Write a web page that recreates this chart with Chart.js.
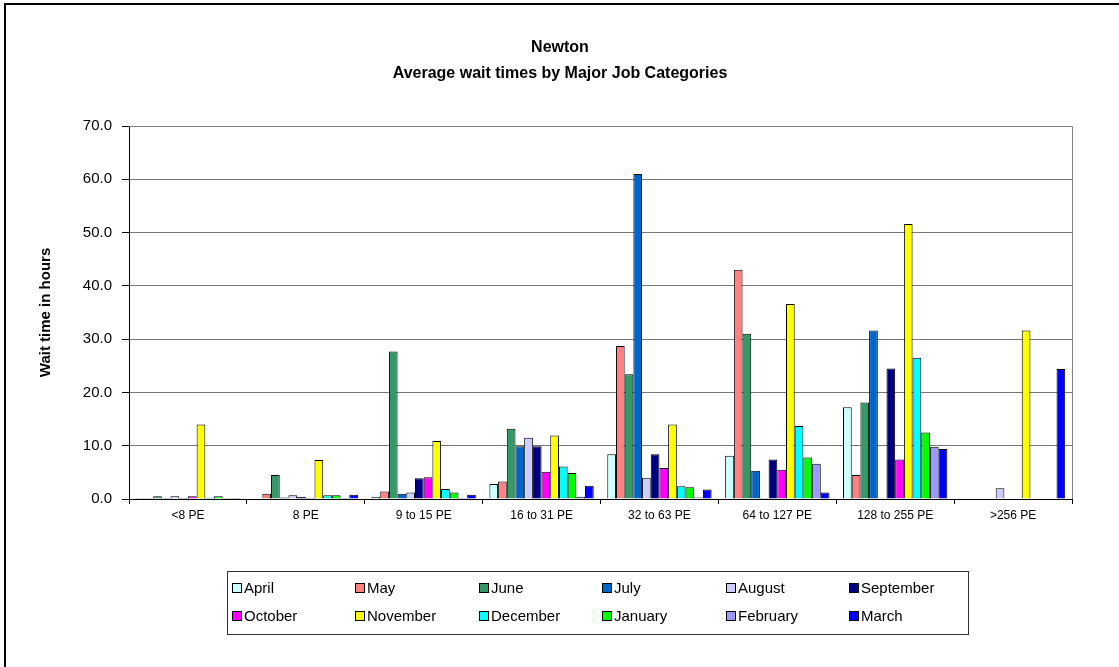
<!DOCTYPE html>
<html>
<head>
<meta charset="utf-8">
<script src="https://cdn.jsdelivr.net/npm/chart.js@4.4.0/dist/chart.umd.min.js"></script>
<style>
  body { margin: 0; background: #fff; }
  canvas { display: block; }
</style>
</head>
<body>
<canvas id="myChart" width="1119" height="667"></canvas>
<script>
const categories = ["<8 PE", "8 PE", "9 to 15 PE", "16 to 31 PE", "32 to 63 PE", "64 to 127 PE", "128 to 255 PE", ">256 PE"];
const yTicks = [0, 10, 20, 30, 40, 50, 60, 70];

const april     = [0.2, 0.1, 0.4, 2.8, 8.4, 8.1, 17.2, null];
const may       = [0.2, 1.0, 1.4, 3.3, 28.7, 43.0, 4.5, null];
const june      = [0.5, 4.5, 27.7, 13.2, 23.4, 31.0, 18.1, null];
const july      = [0.2, 0.3, 1.0, 9.9, 61.0, 5.3, 31.6, null];
const august    = [0.5, 0.7, 1.2, 11.5, 4.0, 0.2, null, 2.0];
const september = [0.2, 0.4, 3.9, 9.9, 8.4, 7.4, 24.5, null];
const october   = [0.5, 0.2, 4.1, 5.1, 5.8, 5.5, 7.4, null];
const november  = [14.0, 7.3, 10.9, 11.9, 14.0, 36.6, 51.6, 31.6];
const december  = [0.2, 0.7, 1.9, 6.1, 2.4, 13.7, 26.5, null];
const january   = [0.5, 0.7, 1.2, 4.9, 2.2, 7.8, 12.5, null];
const february  = [0.2, 0.2, 0.2, 0.4, 0.3, 6.6, 9.8, null];
const march     = [0.2, 0.8, 0.8, 2.5, 1.8, 1.2, 9.4, 24.4];

const months = ["April", "May", "June", "July", "August", "September", "October", "November", "December", "January", "February", "March"];
const series = [april, may, june, july, august, september, october, november, december, january, february, march];
const colors = ["#CCFFFF", "#FF8080", "#339966", "#0066CC", "#CCCCFF", "#000080", "#FF00FF", "#FFFF00", "#00FFFF", "#00FF00", "#9999FF", "#0000FF"];

const FONT = "'Liberation Sans', Arial, sans-serif";

// frame, title and the boxed legend (Excel style)
const decor = {
  id: "decor",
  beforeDraw(chart) {
    const c = chart.ctx;
    c.save();
    c.fillStyle = "#fff";
    c.fillRect(0, 0, chart.width, chart.height);
    c.restore();
  },
  afterDatasetsDraw(chart) {
    const c = chart.ctx;
    const a = chart.chartArea;
    c.save();
    // plot frame top/right in grey
    c.strokeStyle = "#808080";
    c.lineWidth = 1;
    c.beginPath();
    c.moveTo(a.left, a.top + 0.5);
    c.lineTo(a.right + 0.5, a.top + 0.5);
    c.lineTo(a.right + 0.5, a.bottom);
    c.stroke();
    c.restore();
  },
  afterDraw(chart) {
    const c = chart.ctx;
    c.save();
    // outer border
    c.strokeStyle = "#000";
    c.lineWidth = 2;
    c.strokeRect(5, 4, 1300, 800);

    // title
    c.fillStyle = "#000";
    c.font = "bold 16px " + FONT;
    c.textAlign = "center";
    c.textBaseline = "middle";
    c.fillText("Newton", 560, 48);
    c.fillText("Average wait times by Major Job Categories", 560, 74);

    // legend
    c.lineWidth = 1;
    c.strokeStyle = "#333";
    c.strokeRect(227.5, 571.5, 741, 63);
    c.font = "15px " + FONT;
    c.textAlign = "left";
    const ds = chart.data.datasets;
    ds.forEach((d, i) => {
      const col = i % 6, row = Math.floor(i / 6);
      const x = 232 + col * 123.4;
      const y = 588 + row * 28;
      c.fillStyle = d.backgroundColor;
      c.fillRect(Math.round(x) + 0.5, y - 4.5, 9, 9);
      c.strokeStyle = "#000";
      c.strokeRect(Math.round(x) + 0.5, y - 4.5, 9, 9);
      c.fillStyle = "#000";
      c.fillText(d.label, Math.round(x) + 12, y + 1);
    });
    c.restore();
  }
};

const ctx = document.getElementById("myChart");

new Chart(ctx, {
  type: "bar",
  data: {
    labels: categories,
    datasets: months.map((m, i) => ({
      label: m,
      data: series[i],
      backgroundColor: colors[i],
      borderColor: "#000",
      borderWidth: 1,
      borderSkipped: "start",
      categoryPercentage: 0.885,
      barPercentage: 1.0
    }))
  },
  options: {
    responsive: false,
    animation: false,
    layout: {
      padding: { top: 126, left: 0, right: 47, bottom: 138 }
    },
    plugins: {
      legend: { display: false },
      title: { display: false },
      tooltip: { enabled: false }
    },
    scales: {
      x: {
        grid: {
          display: true,
          drawOnChartArea: false,
          color: "#000",
          tickLength: 5,
          offset: true
        },
        border: { color: "#000", width: 1 },
        ticks: {
          color: "#000",
          font: { family: FONT, size: 12 },
          padding: 4,
          maxRotation: 0,
          autoSkip: false
        },
        afterFit(scale) { scale.height = 30; }
      },
      y: {
        min: 0,
        max: 70,
        afterBuildTicks(scale) {
          scale.ticks = yTicks.map(v => ({ value: v }));
        },
        grid: {
          color: "#777",
          lineWidth: 1,
          tickLength: 7,
          tickColor: "#000"
        },
        border: { color: "#000", width: 1 },
        ticks: {
          color: "#000",
          font: { family: FONT, size: 15 },
          padding: 10,
          callback: v => Number(v).toFixed(1)
        },
        title: {
          display: true,
          text: "Wait time in hours",
          color: "#000",
          font: { family: FONT, size: 15, weight: "bold" },
          padding: { top: 37, bottom: 0 }
        },
        afterFit(scale) { scale.width = 129; }
      }
    }
  },
  plugins: [decor]
});
</script>
</body>
</html>
